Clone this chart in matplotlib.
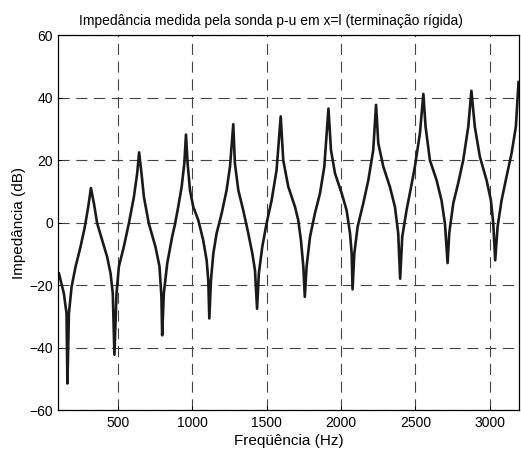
# Impedance measured by the p-u probe, rigid termination
import matplotlib
matplotlib.use("Agg")
import matplotlib.pyplot as plt

# curve points (Hz, dB)
freq_hz = [
    104, 137, 155, 161, 171, 189, 216, 249, 278, 301, 319,
    339, 361, 395, 428, 451, 466, 477, 491, 507, 540, 574, 608, 630, 643,
    659, 675, 708, 753, 780, 793, 798, 809, 832, 865, 884, 906, 929, 947, 958,
    969, 985, 1007, 1041, 1074, 1097, 1108, 1115, 1126, 1142, 1164, 1198, 1231, 1254, 1276,
    1287, 1310, 1343, 1377, 1404, 1422, 1436, 1448, 1471, 1500, 1534, 1567, 1595,
    1612, 1646, 1691, 1713, 1731, 1747, 1757, 1769, 1792, 1825, 1859, 1888, 1916,
    1933, 1960, 2005, 2038, 2061, 2072, 2078, 2090, 2112, 2150, 2184, 2217, 2236,
    2251, 2285, 2329, 2363, 2385, 2398, 2412, 2441, 2464, 2497, 2531, 2554,
    2569, 2598, 2643, 2676, 2699, 2717, 2728, 2755, 2788, 2822, 2856, 2877,
    2900, 2934, 2979, 3008, 3024, 3037, 3053, 3080, 3113, 3147, 3176, 3194,
]
imp_db = [
    -16.2, -22.6, -29.0, -51.4, -29.0, -20.5, -14.0, -7.7, -1.3, 5.1, 11.1,
    6.2, -0.2, -5.6, -10.9, -16.2, -22.6, -42.2, -22.6, -14.0, -7.7, -0.2, 8.3, 15.8, 22.5,
    15.8, 8.3, -0.2, -7.7, -14.0, -23.7, -36.0, -22.6, -13.0, -4.5, -0.5, 5.1, 11.5, 19.0, 28.2,
    19.0, 10.4, 5.1, 0.8, -5.6, -12.0, -18.4, -30.6, -18.4, -9.8, -3.4, 3.0, 10.4, 17.9, 31.5,
    19.0, 10.4, 4.0, -3.4, -9.8, -15.2, -27.5, -16.2, -7.7, -0.2, 7.2, 16.8, 34.0,
    20.0, 11.5, 5.1, 0.8, -5.6, -14.0, -23.7, -14.0, -4.5, 3.0, 9.4, 17.9, 36.5,
    23.2, 15.8, 9.4, 4.0, -3.4, -9.8, -21.3, -9.8, -1.3, 6.2, 13.6, 23.2, 37.7,
    25.4, 17.9, 11.5, 5.1, -3.4, -17.9, -4.5, 4.0, 9.6, 17.9, 28.6, 41.2,
    30.7, 20.0, 13.6, 7.2, -0.2, -12.9, -3.4, 6.2, 12.6, 20.0, 30.7, 42.2,
    30.7, 21.1, 13.6, 7.2, -0.2, -12.0, -1.3, 7.2, 14.7, 22.2, 30.7, 45.0,
]
x_ticks = [500, 1000, 1500, 2000, 2500, 3000]
y_ticks = [-60, -40, -20, 0, 20, 40, 60]

plt.rcParams["font.family"] = ["Liberation Sans", "DejaVu Sans"]

fig = plt.figure(figsize=(5.21, 4.5), dpi=100)
ax = fig.add_axes([0.112, 0.088, 0.885, 0.834])

ax.plot(freq_hz, imp_db, color="#1a1a1a", lw=1.9, solid_joinstyle="round")

ax.set_xlim(100, 3200)
ax.set_ylim(-60, 60)
ax.set_xticks(x_ticks)
ax.set_yticks(y_ticks)
ax.tick_params(direction="in", length=3, labelsize=10, width=0.7, pad=4)
ax.grid(True, color="#444444", linestyle=(0, (10, 6)), linewidth=0.8)
for s in ax.spines.values():
    s.set_linewidth(0.9)

ax.set_xlabel("Freqüência (Hz)", fontsize=11, labelpad=3)
ax.set_ylabel("Impedância (dB)", fontsize=11, labelpad=2)
ax.set_title("Impedância medida pela sonda p-u em x=l (terminação rígida)",
             fontsize=10, x=0.46, pad=7)

fig.savefig("out.png", dpi=100)
